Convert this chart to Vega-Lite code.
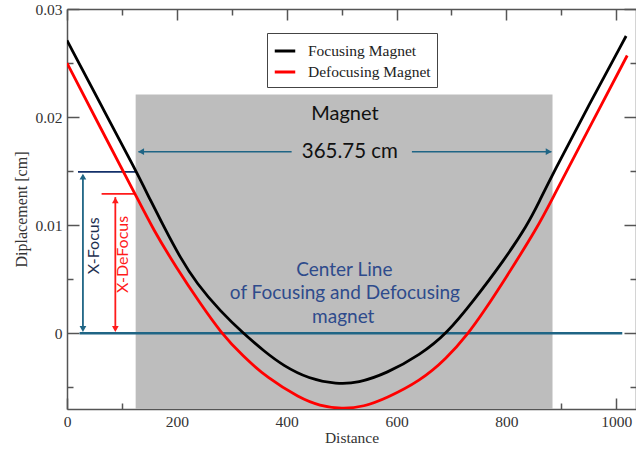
{
  "$schema": "https://vega.github.io/schema/vega-lite/v6.json",
  "width": 569,
  "height": 400,
  "autosize": "none",
  "padding": {"left": 67, "top": 9, "right": 0, "bottom": 40},
  "background": "white",
  "config": {"view": {"stroke": null}},
  "datasets": {
    "magnet": [{"x": 125, "x2": 884, "y": -0.007, "y2": 0.0221}],
    "curves": [
      {"series": "Focusing Magnet", "x": 0, "y": 0.0271},
      {"series": "Focusing Magnet", "x": 60, "y": 0.0213},
      {"series": "Focusing Magnet", "x": 126, "y": 0.0150},
      {"series": "Focusing Magnet", "x": 152, "y": 0.0123},
      {"series": "Focusing Magnet", "x": 178, "y": 0.0097},
      {"series": "Focusing Magnet", "x": 205, "y": 0.0071},
      {"series": "Focusing Magnet", "x": 236, "y": 0.0046},
      {"series": "Focusing Magnet", "x": 280, "y": 0.0020},
      {"series": "Focusing Magnet", "x": 321, "y": 0.0},
      {"series": "Focusing Magnet", "x": 360, "y": -0.0017},
      {"series": "Focusing Magnet", "x": 394, "y": -0.0030},
      {"series": "Focusing Magnet", "x": 440, "y": -0.0042},
      {"series": "Focusing Magnet", "x": 491, "y": -0.0047},
      {"series": "Focusing Magnet", "x": 530, "y": -0.0046},
      {"series": "Focusing Magnet", "x": 582, "y": -0.0037},
      {"series": "Focusing Magnet", "x": 643, "y": -0.0020},
      {"series": "Focusing Magnet", "x": 692, "y": 0.0},
      {"series": "Focusing Magnet", "x": 740, "y": 0.0030},
      {"series": "Focusing Magnet", "x": 795, "y": 0.0067},
      {"series": "Focusing Magnet", "x": 838, "y": 0.0100},
      {"series": "Focusing Magnet", "x": 860, "y": 0.0122},
      {"series": "Focusing Magnet", "x": 883, "y": 0.0146},
      {"series": "Focusing Magnet", "x": 950, "y": 0.0211},
      {"series": "Focusing Magnet", "x": 1018, "y": 0.0275},
      {"series": "Defocusing Magnet", "x": 0, "y": 0.0250},
      {"series": "Defocusing Magnet", "x": 60, "y": 0.0191},
      {"series": "Defocusing Magnet", "x": 126, "y": 0.0127},
      {"series": "Defocusing Magnet", "x": 157, "y": 0.0096},
      {"series": "Defocusing Magnet", "x": 200, "y": 0.0060},
      {"series": "Defocusing Magnet", "x": 242, "y": 0.0028},
      {"series": "Defocusing Magnet", "x": 281, "y": 0.0},
      {"series": "Defocusing Magnet", "x": 320, "y": -0.0021},
      {"series": "Defocusing Magnet", "x": 364, "y": -0.0041},
      {"series": "Defocusing Magnet", "x": 424, "y": -0.0060},
      {"series": "Defocusing Magnet", "x": 460, "y": -0.0067},
      {"series": "Defocusing Magnet", "x": 500, "y": -0.0070},
      {"series": "Defocusing Magnet", "x": 540, "y": -0.0068},
      {"series": "Defocusing Magnet", "x": 582, "y": -0.0060},
      {"series": "Defocusing Magnet", "x": 643, "y": -0.0044},
      {"series": "Defocusing Magnet", "x": 690, "y": -0.0024},
      {"series": "Defocusing Magnet", "x": 731, "y": 0.0},
      {"series": "Defocusing Magnet", "x": 760, "y": 0.0021},
      {"series": "Defocusing Magnet", "x": 795, "y": 0.0048},
      {"series": "Defocusing Magnet", "x": 859, "y": 0.0100},
      {"series": "Defocusing Magnet", "x": 883, "y": 0.0124},
      {"series": "Defocusing Magnet", "x": 950, "y": 0.0189},
      {"series": "Defocusing Magnet", "x": 1020, "y": 0.0257}
    ],
    "segs": [
      {"x": 23, "x2": 1011, "y": 0, "y2": 0, "c": "#1f6585", "w": 2.5},
      {"x": 130, "x2": 409, "y": 0.0168, "y2": 0.0168, "c": "#1f6585", "w": 1.5},
      {"x": 628, "x2": 882, "y": 0.0168, "y2": 0.0168, "c": "#1f6585", "w": 1.5},
      {"x": 29, "x2": 29, "y": 0.0146, "y2": 0.0003, "c": "#1f6585", "w": 1.8},
      {"x": 20, "x2": 127, "y": 0.01494, "y2": 0.01494, "c": "#13306a", "w": 1.8},
      {"x": 88, "x2": 88, "y": 0.0126, "y2": 0.0003, "c": "#ff1a1a", "w": 1.8},
      {"x": 63, "x2": 123, "y": 0.0129, "y2": 0.0129, "c": "#ff1a1a", "w": 1.8}
    ],
    "heads": [
      {"x": 135, "y": 0.0168, "s": "triangle-left", "c": "#1f6585"},
      {"x": 877, "y": 0.0168, "s": "triangle-right", "c": "#1f6585"},
      {"x": 29, "y": 0.0145, "s": "triangle-up", "c": "#1f6585"},
      {"x": 29, "y": 0.0004, "s": "triangle-down", "c": "#1f6585"},
      {"x": 88, "y": 0.0123, "s": "triangle-up", "c": "#ff1a1a"},
      {"x": 88, "y": 0.0004, "s": "triangle-down", "c": "#ff1a1a"}
    ],
    "labels": [
      {"t": "Magnet", "x": 506, "y": 0.0203, "s": 20, "c": "#111111", "a": 0},
      {"t": "365.75 cm", "x": 515, "y": 0.0168, "s": 20.5, "c": "#111111", "a": 0},
      {"t": "Center Line", "x": 505, "y": 0.00583, "s": 19, "c": "#2e4b8c", "a": 0},
      {"t": "of Focusing and Defocusing", "x": 506, "y": 0.00373, "s": 19, "c": "#2e4b8c", "a": 0},
      {"t": "magnet", "x": 503, "y": 0.00151, "s": 19, "c": "#2e4b8c", "a": 0},
      {"t": "X-Focus", "x": 48.7, "y": 0.0081, "s": 16, "c": "#1e3050", "a": 270},
      {"t": "X-DeFocus", "x": 102, "y": 0.0073, "s": 16, "c": "#ff1a1a", "a": 270}
    ]
  },
  "resolve": {"axis": {"x": "independent", "y": "independent"}},
  "layer": [
    {
      "data": {"name": "magnet"},
      "mark": {"type": "rect", "fill": "#bdbdbd"},
      "encoding": {
        "x": {"field": "x", "type": "quantitative",
          "scale": {"domain": [0, 1036], "nice": false, "zero": false},
          "axis": {
            "orient": "bottom",
            "values": [0, 100, 200, 300, 400, 500, 600, 700, 800, 900, 1000],
            "labelExpr": "datum.value % 200 == 0 ? format(datum.value, 'd') : ''",
            "tickSize": {"condition": {"test": "datum.value % 200 == 0", "value": -11}, "value": -6},
            "labelPadding": 16,
            "labelFlush": false,
            "grid": false,
            "domainColor": "#555555", "domainWidth": 1.5,
            "tickColor": "#555555", "tickWidth": 1.5,
            "labelFont": "Liberation Serif", "labelFontSize": 15.5, "labelColor": "#333333",
            "title": "Distance",
            "titleFont": "Liberation Serif", "titleFontSize": 15.5, "titleFontWeight": "normal", "titleColor": "#333333",
            "titlePadding": 1
          }
        },
        "x2": {"field": "x2"},
        "y": {"field": "y", "type": "quantitative",
          "scale": {"domain": [-0.007, 0.03], "nice": false, "zero": false},
          "axis": {
            "orient": "left",
            "values": [-0.005, 0, 0.005, 0.01, 0.015, 0.02, 0.025, 0.03],
            "labelExpr": "abs(datum.value*100 - round(datum.value*100)) < 0.000001 ? format(datum.value, '~g') : ''",
            "tickSize": {"condition": {"test": "abs(datum.value*100 - round(datum.value*100)) < 0.000001", "value": -12}, "value": -6},
            "labelPadding": 17,
            "labelFlush": false,
            "grid": false,
            "domainColor": "#555555", "domainWidth": 1.5,
            "tickColor": "#555555", "tickWidth": 1.5,
            "labelFont": "Liberation Serif", "labelFontSize": 15.5, "labelColor": "#333333",
            "title": "Diplacement [cm]",
            "titleFont": "Liberation Serif", "titleFontSize": 16, "titleFontWeight": "normal", "titleColor": "#333333",
            "titlePadding": 5
          }
        },
        "y2": {"field": "y2"}
      }
    },
    {
      "data": {"name": "segs"},
      "mark": {"type": "rule"},
      "encoding": {
        "x": {"field": "x", "type": "quantitative", "axis": null},
        "x2": {"field": "x2"},
        "y": {"field": "y", "type": "quantitative", "axis": null},
        "y2": {"field": "y2"},
        "color": {"field": "c", "type": "nominal", "scale": null},
        "strokeWidth": {"field": "w", "type": "quantitative", "scale": null}
      }
    },
    {
      "data": {"name": "curves"},
      "mark": {"type": "line", "strokeWidth": 2.8, "interpolate": "basis", "clip": true},
      "encoding": {
        "x": {"field": "x", "type": "quantitative",
          "axis": {
            "orient": "top",
            "values": [0, 100, 200, 300, 400, 500, 600, 700, 800, 900, 1000],
            "labels": false,
            "tickSize": {"condition": {"test": "datum.value % 200 == 0", "value": -11}, "value": -6},
            "grid": false, "title": null,
            "domainColor": "#555555", "domainWidth": 1.5,
            "tickColor": "#555555", "tickWidth": 1.5
          }
        },
        "y": {"field": "y", "type": "quantitative",
          "axis": {
            "orient": "right",
            "values": [-0.005, 0, 0.005, 0.01, 0.015, 0.02, 0.025, 0.03],
            "labels": false,
            "tickSize": {"condition": {"test": "abs(datum.value*100 - round(datum.value*100)) < 0.000001", "value": -12}, "value": -6},
            "grid": false, "title": null,
            "domainColor": "#555555", "domainWidth": 1.5,
            "tickColor": "#555555", "tickWidth": 1.5
          }
        },
        "color": {"field": "series", "type": "nominal",
          "scale": {"domain": ["Focusing Magnet", "Defocusing Magnet"], "range": ["#000000", "#ff0000"]},
          "legend": {
            "orient": "none", "legendX": 200, "legendY": 24,
            "title": null,
            "symbolType": "stroke", "symbolStrokeWidth": 3, "symbolSize": 420,
            "labelFont": "Liberation Serif", "labelFontSize": 15.5, "labelColor": "#222222",
            "labelOffset": 11,
            "strokeColor": "#444444", "fillColor": "white",
            "padding": 6, "rowPadding": 0
          }
        }
      }
    },
    {
      "data": {"name": "heads"},
      "mark": {"type": "point", "filled": true, "opacity": 1, "size": 45},
      "encoding": {
        "x": {"field": "x", "type": "quantitative", "axis": null},
        "y": {"field": "y", "type": "quantitative", "axis": null},
        "shape": {"field": "s", "type": "nominal", "scale": null},
        "color": {"field": "c", "type": "nominal", "scale": null}
      }
    },
    {
      "data": {"name": "labels"},
      "mark": {"type": "text", "font": "Lato", "baseline": "middle", "align": "center"},
      "encoding": {
        "x": {"field": "x", "type": "quantitative", "axis": null},
        "y": {"field": "y", "type": "quantitative", "axis": null},
        "text": {"field": "t"},
        "size": {"field": "s", "type": "quantitative", "scale": null},
        "color": {"field": "c", "type": "nominal", "scale": null},
        "angle": {"field": "a", "type": "quantitative", "scale": null}
      }
    }
  ]
}
